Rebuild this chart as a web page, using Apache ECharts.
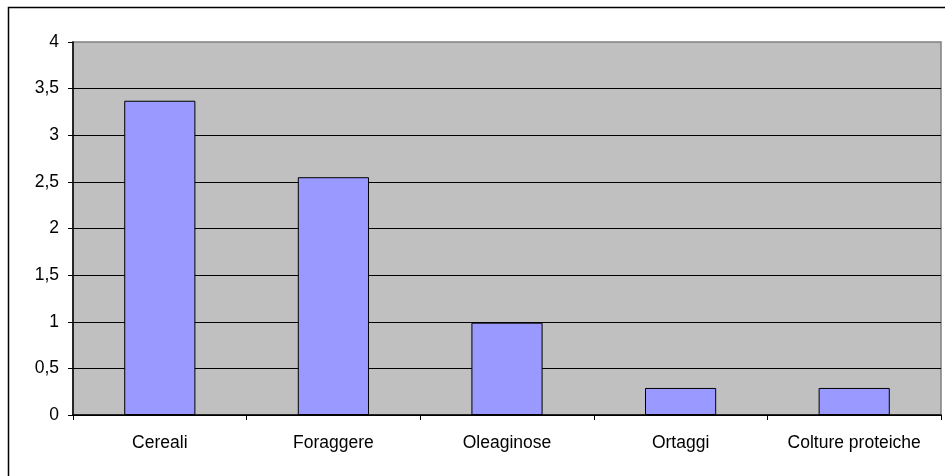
<!DOCTYPE html>
<html>
<head>
<meta charset="utf-8">
<script src="https://cdn.jsdelivr.net/npm/echarts@6/dist/echarts.min.js"></script>
<style>
  html, body { margin: 0; padding: 0; background: #fff; }
  #chart { width: 945px; height: 476px; }
</style>
</head>
<body>
<div id="chart"></div>
<script>
// dati
const categories = ["Cereali", "Foraggere", "Oleaginose", "Ortaggi", "Colture proteiche"];
const values = [3.37, 2.55, 0.99, 0.29, 0.29];

const chart = echarts.init(document.getElementById("chart"));
const FONT = "Liberation Sans, Arial, sans-serif";

chart.setOption({
  backgroundColor: "#ffffff",
  animation: false,
  graphic: [{
    type: "rect", silent: true, z: -1,
    shape: { x: 8.5, y: 7.5, width: 960, height: 500 },
    style: { fill: "none", stroke: "#000", lineWidth: 1.5 },
  }],
  grid: {
    left: 73, right: 4, top: 42, bottom: 61,
    show: true, backgroundColor: "#c0c0c0", borderColor: "#808080", borderWidth: 1.5,
  },
  xAxis: {
    type: "category", data: categories,
    axisLine: { lineStyle: { color: "#000", width: 1.5 } },
    axisTick: { show: true, alignWithLabel: false, length: 5, lineStyle: { color: "#000" } },
    axisLabel: { color: "#000", fontFamily: FONT, fontSize: 17.5, margin: 19 },
  },
  yAxis: {
    type: "value", min: 0, max: 4, interval: 0.5,
    axisLine: { show: true, lineStyle: { color: "#000", width: 1.5 } },
    axisTick: { show: true, length: 5, lineStyle: { color: "#000" } },
    axisLabel: {
      color: "#000", fontFamily: FONT, fontSize: 17.5, margin: 14,
      formatter: v => String(v).replace(".", ","),
    },
    splitLine: { showMaxLine: false, lineStyle: { color: "#000", width: 1 } },
  },
  series: [{
    type: "bar", data: values, barWidth: "41%",
    itemStyle: { color: "#9999ff", borderColor: "#000", borderWidth: 1 },
  }],
});
</script>
</body>
</html>
